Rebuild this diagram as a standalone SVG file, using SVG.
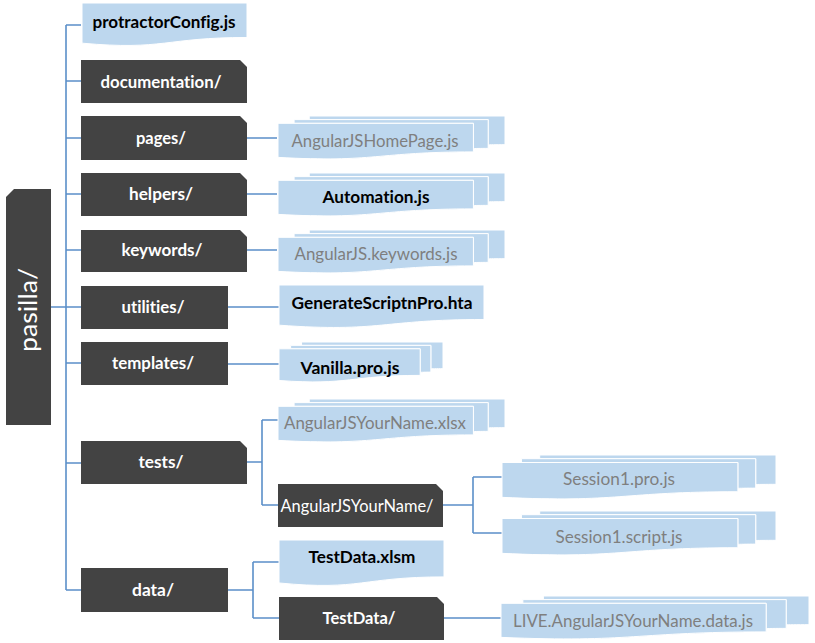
<svg xmlns="http://www.w3.org/2000/svg" xmlns:xlink="http://www.w3.org/1999/xlink" width="815" height="643" viewBox="0 0 815 643">
<style>
.dk{fill:#434343}
.lb{fill:#BDD7EE;stroke:#fff;stroke-width:1;vector-effect:non-scaling-stroke}
.ln{stroke:#5B8FC9;stroke-width:1.6;fill:none}
text{font-family:Lato,"Liberation Sans",sans-serif;font-size:17px;text-anchor:middle;font-variant-ligatures:none}
.dt{font-weight:bold;fill:#fff}
.dr{fill:#fff}
.bt{font-weight:bold;fill:#000}
.gt{fill:#7F7F7F}
</style>
<defs>
<path id="doc" class="lb" d="M0,0H21600V17322C10800,17322 10800,23922 0,20172Z"/>
<g id="md">
<path class="lb" d="M2972,1815V0H21600V14392C20800,14392 20000,14467 20000,14467V1815Z"/>
<path class="lb" d="M1532,3675V1815H20000V16252C19298,16252 18595,16352 18595,16352V3675Z"/>
<path class="lb" d="M0,20782C9298,23542 9298,18022 18595,18022V3675H0Z"/>
</g>
</defs>
<g id="connectors">
<path class="ln" d="M66,25V590M66,25H81M66,81H81M66,138H81M66,194H81M66,250H81M51,307H81M66,363H81M66,463H81M66,590H81M247,138H277M247,194H277M247,250H277M228,307H279M228,364H279M247,462H262M262,420V505M262,420H278M262,505H278M443,505H473M473,477V533M473,477H502M473,533H502M228,590H253M253,562V618M253,562H279M253,618H279M444,618H501"/>
</g>
<g id="pasilla"><path class="dk" d="M14,189H51V425H6V197Z"/><text class="dr" transform="translate(37,310) rotate(-90)" style="font-size:25px" textLength="84" lengthAdjust="spacingAndGlyphs">pasilla/</text></g>
<g id="protractorConfig"><use xlink:href="#doc" transform="translate(82,3) scale(0.0076389,0.0019907)"/><text class="bt" x="164" y="28" textLength="143" lengthAdjust="spacingAndGlyphs">protractorConfig.js</text></g>
<g id="documentation"><path class="dk" d="M81,60H240L247,67V103H81Z"/><text class="dt" x="161" y="88" textLength="121" lengthAdjust="spacingAndGlyphs">documentation/</text></g>
<g id="pages"><path class="dk" d="M81,116H240L247,123V160H81Z"/><text class="dt" x="161" y="144" textLength="50" lengthAdjust="spacingAndGlyphs">pages/</text></g>
<g id="homepage"><use xlink:href="#md" transform="translate(278,116) scale(0.0105093,0.0019907)"/><text class="gt" x="375" y="147" textLength="167" lengthAdjust="spacingAndGlyphs">AngularJSHomePage.js</text></g>
<g id="helpers"><path class="dk" d="M81,173H240L247,180V216H81Z"/><text class="dt" x="161" y="200" textLength="64" lengthAdjust="spacingAndGlyphs">helpers/</text></g>
<g id="automation"><use xlink:href="#md" transform="translate(278,173) scale(0.0105093,0.0019907)"/><text class="bt" x="376" y="203" textLength="107" lengthAdjust="spacingAndGlyphs">Automation.js</text></g>
<g id="keywords"><path class="dk" d="M81,230H240L247,237V272H81Z"/><text class="dt" x="162" y="256" textLength="81" lengthAdjust="spacingAndGlyphs">keywords/</text></g>
<g id="keywordsjs"><use xlink:href="#md" transform="translate(278,230) scale(0.0105093,0.0019907)"/><text class="gt" x="376" y="260" textLength="163" lengthAdjust="spacingAndGlyphs">AngularJS.keywords.js</text></g>
<g id="utilities"><rect class="dk" x="81" y="286" width="147" height="43"/><text class="dt" x="153" y="313" textLength="63" lengthAdjust="spacingAndGlyphs">utilities/</text></g>
<g id="generate"><use xlink:href="#doc" transform="translate(279,285) scale(0.0094907,0.0019907)"/><text class="bt" x="382" y="309" textLength="181" lengthAdjust="spacingAndGlyphs">GenerateScriptnPro.hta</text></g>
<g id="templates"><rect class="dk" x="81" y="342" width="147" height="43"/><text class="dt" x="153" y="369" textLength="82" lengthAdjust="spacingAndGlyphs">templates/</text></g>
<g id="vanilla"><use xlink:href="#md" transform="translate(279,342) scale(0.0075926,0.0018519)"/><text class="bt" x="350" y="374" textLength="99" lengthAdjust="spacingAndGlyphs">Vanilla.pro.js</text></g>
<g id="xlsx"><use xlink:href="#md" transform="translate(278,399) scale(0.0105093,0.0019907)"/><text class="gt" x="375" y="429" textLength="182" lengthAdjust="spacingAndGlyphs">AngularJSYourName.xlsx</text></g>
<g id="tests"><path class="dk" d="M81,441H240L247,448V484H81Z"/><text class="dt" x="161" y="468" textLength="45" lengthAdjust="spacingAndGlyphs">tests/</text></g>
<g id="yourname"><path class="dk" d="M278,484H436L443,491V527H278Z"/><text class="dr" x="357" y="512" textLength="153" lengthAdjust="spacingAndGlyphs">AngularJSYourName/</text></g>
<g id="session1pro"><use xlink:href="#md" transform="translate(502,455) scale(0.0126852,0.002037)"/><text class="gt" x="619" y="485" textLength="112" lengthAdjust="spacingAndGlyphs">Session1.pro.js</text></g>
<g id="session1script"><use xlink:href="#md" transform="translate(502,511) scale(0.0126852,0.002037)"/><text class="gt" x="619" y="543" textLength="127" lengthAdjust="spacingAndGlyphs">Session1.script.js</text></g>
<g id="testdataxlsm"><use xlink:href="#doc" transform="translate(279,540) scale(0.0076389,0.0021296)"/><text class="bt" x="362" y="563" textLength="107" lengthAdjust="spacingAndGlyphs">TestData.xlsm</text></g>
<g id="data"><rect class="dk" x="81" y="568" width="147" height="44"/><text class="dt" x="153" y="596" textLength="42" lengthAdjust="spacingAndGlyphs">data/</text></g>
<g id="testdata"><path class="dk" d="M279,597H437L444,604V640H279Z"/><text class="dt" x="359" y="624" textLength="73" lengthAdjust="spacingAndGlyphs">TestData/</text></g>
<g id="live"><use xlink:href="#md" transform="translate(501,596) scale(0.0142593,0.0019907)"/><text class="gt" x="633" y="627" textLength="240" lengthAdjust="spacingAndGlyphs">LIVE.AngularJSYourName.data.js</text></g>
</svg>
